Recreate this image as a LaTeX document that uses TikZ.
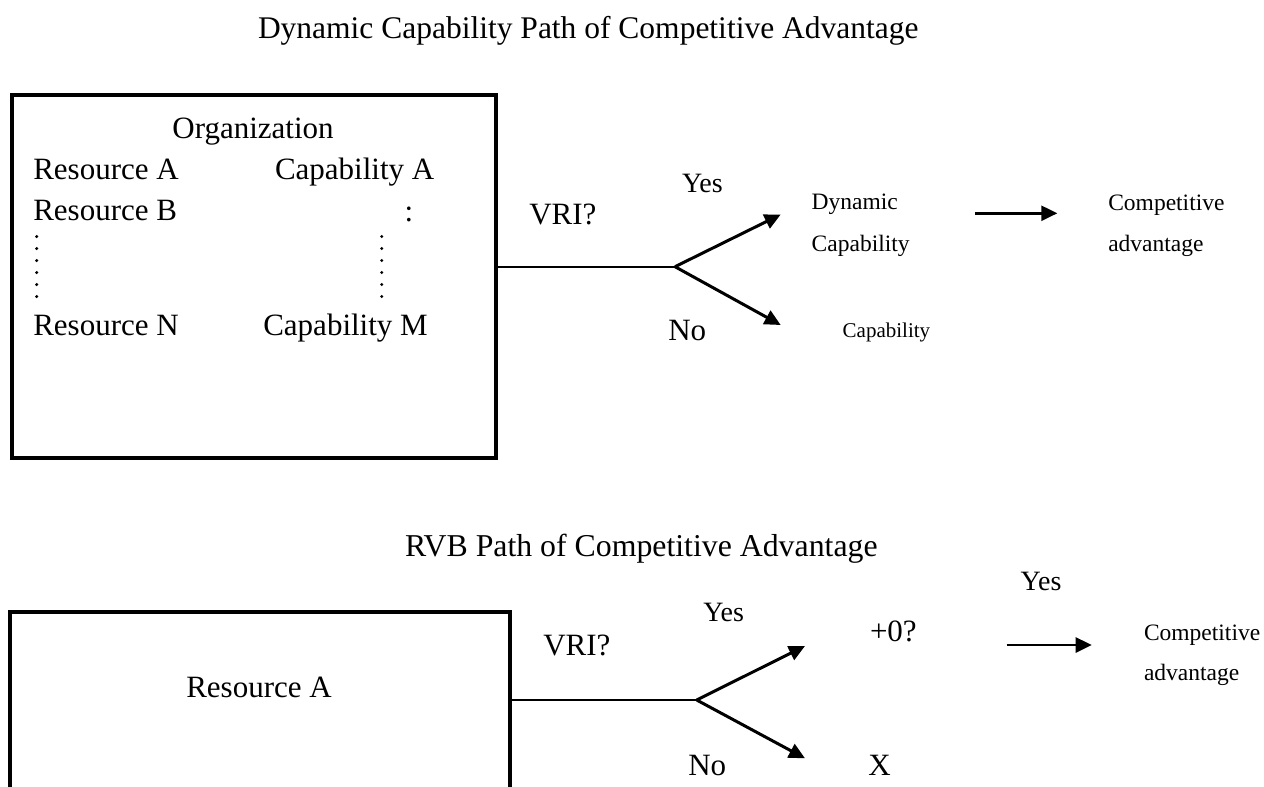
\documentclass[tikz,border=0pt]{standalone}
\usepackage{fontspec}
\setmainfont{Liberation Serif}
\usetikzlibrary{arrows.meta}
\newcommand{\myfs}[1]{\fontsize{#1}{#1}\selectfont}
\begin{document}
\begin{tikzpicture}[x=1pt,y=-1pt,
  txt/.style={inner sep=0pt, outer sep=0pt, anchor=base west, font=\myfs{31}},
  yesno/.style={txt, font=\myfs{28}},
  small/.style={txt, font=\myfs{23.5}},
  tiny/.style={txt, font=\myfs{21}},
  box/.style={draw, line width=4pt, inner sep=0pt, outer sep=0pt},
  feed/.style={line width=2.2pt},
  branch/.style={line width=3pt, -{Triangle[length=16pt,width=15pt]}},
  goarrow/.style={line width=2.7pt, -{Triangle[length=16pt,width=15pt]}},
  dot/.style={fill=black}
]
\useasboundingbox (0,0) rectangle (1264,787);

% ---------- top: dynamic capability path ----------
\node[txt, font=\myfs{31.5}] (title1) at (258,38) {Dynamic Capability Path of Competitive Advantage};

\node[box, minimum width=484pt, minimum height=363.3pt] (orgbox) at (254,276.35) {};
\node[txt, anchor=base] (org) at (253,138.3) {Organization};
\node[txt] (resA) at (33.3,179.3) {Resource A};
\node[txt] (resB) at (33.3,220) {Resource B};
\node[txt] (resN) at (33.3,335) {Resource N};
\node[txt] (capA) at (275,179.3) {Capability A};
\node[txt, anchor=base] (colon) at (409,221) {:};
\node[txt] (capM) at (263.3,335) {Capability M};
\foreach \yy in {236.5,248.5,260.5,272.5,284.5,296.5}{
  \fill[dot] (36.7,\yy) circle (1.7pt);
  \fill[dot] (381.7,\yy) circle (1.7pt);
}

\coordinate (b1) at (675,266.7);
\coordinate (t1y) at (780.7,214.5);
\coordinate (t1n) at (780.7,325);
\draw[feed] (orgbox.east |- b1) -- (b1);
\draw[branch] (b1) -- (t1y);
\draw[branch] (b1) -- (t1n);

\node[txt] (vri1) at (529.3,224) {VRI?};
\node[yesno] (yes1) at (682,192) {Yes};
\node[txt] (no1) at (668.3,340.5) {No};
\node[small] (dyn1) at (811.7,209) {Dynamic};
\node[small] (dyn2) at (811.7,251) {Capability};
\node[tiny] (cap1) at (842.7,337) {Capability};

\node[small] (comp1) at (1108.3,210) {Competitive};
\node[small] (adv1) at (1108.3,251.7) {advantage};
\coordinate (a1s) at (975,213.3);
\coordinate (a1e) at (1057.3,213.3);
\draw[goarrow] (a1s) -- (a1e);

% ---------- bottom: RVB path ----------
\node[txt, font=\myfs{31.8}] (title2) at (405,556) {RVB Path of Competitive Advantage};

\node[box, minimum width=500pt, minimum height=218pt] (resbox) at (260.3,721) {};
\node[txt, anchor=base] (resA2) at (259,697) {Resource A};

\coordinate (b2) at (696.7,700);
\coordinate (t2y) at (805,646);
\coordinate (t2n) at (805,758.3);
\draw[feed] (resbox.east |- b2) -- (b2);
\draw[branch] (b2) -- (t2y);
\draw[branch] (b2) -- (t2n);

\node[txt] (vri2) at (543.3,655) {VRI?};
\node[yesno] (yes2) at (703.3,621.7) {Yes};
\node[txt] (plus) at (870,641.7) {+0?};
\node[txt] (no2) at (688.3,775) {No};
\node[txt] (x2) at (868.3,775) {X};
\node[yesno] (yes3) at (1020.7,590.7) {Yes};

\coordinate (a2s) at (1006.7,645);
\coordinate (a2e) at (1091.7,645);
\draw[goarrow] (a2s) -- (a2e);
\node[small] (comp2) at (1144,640) {Competitive};
\node[small] (adv2) at (1144,680) {advantage};
\end{tikzpicture}
\end{document}
